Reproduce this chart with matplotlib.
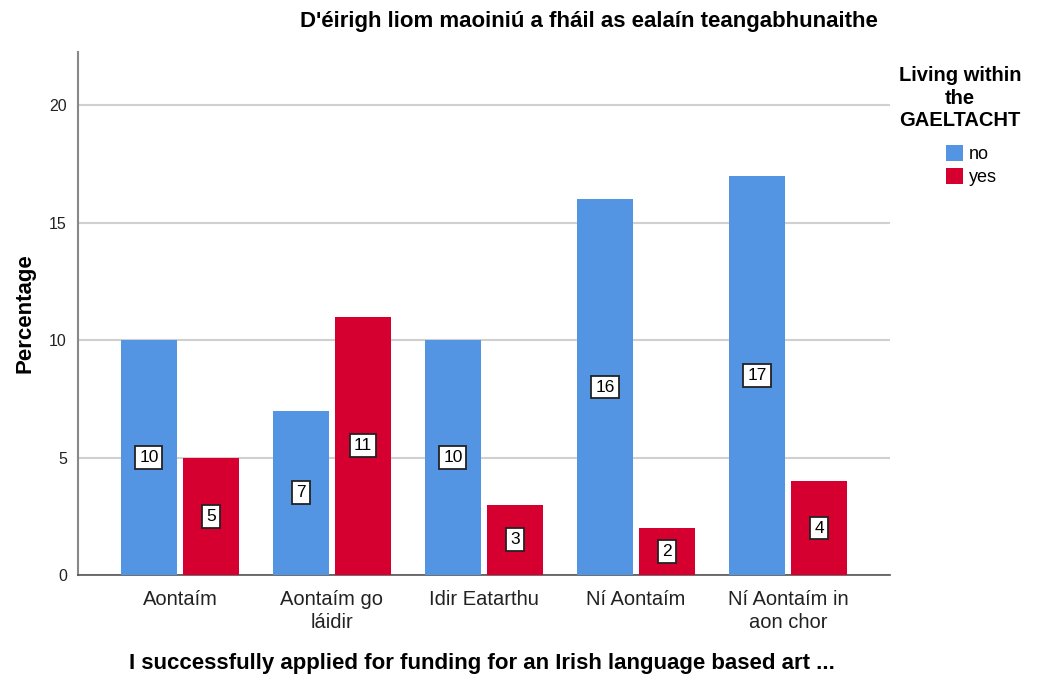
import numpy as np
import matplotlib.pyplot as plt

plt.rcParams['font.family'] = ['Liberation Sans', 'DejaVu Sans']

categories = ['Aontaím', 'Aontaím go\nláidir', 'Idir Eatarthu', 'Ní Aontaím', 'Ní Aontaím in\naon chor']
no_vals = [10, 7, 10, 16, 17]
yes_vals = [5, 11, 3, 2, 4]
series_names = ['no', 'yes']
colors = ['#5394E3', '#D5002F']

fig = plt.figure(figsize=(10.45, 6.77), dpi=100)
ax = fig.add_axes([78 / 1045, 1 - 575 / 677, (890 - 78) / 1045, (575 - 52) / 677])

x = np.arange(len(categories))
w = 0.368
off = 0.204
for vals, name, c, d in zip([no_vals, yes_vals], series_names, colors, [-off, off]):
    bars = ax.bar(x + d, vals, width=w, color=c, label=name, zorder=3)
    for b, v in zip(bars, vals):
        ax.text(b.get_x() + b.get_width() / 2, v / 2, str(v), ha='center', va='center',
                fontsize=12.5, zorder=4,
                bbox=dict(boxstyle='square,pad=0.22', fc='white', ec='#222222', lw=1.3))

ax.set_xlim(-0.671, 4.671)
ax.set_ylim(0, 22.26)
ax.set_yticks([0, 5, 10, 15, 20])
ax.yaxis.grid(True, color='#D0D0D0', lw=1.5, zorder=0)
ax.set_axisbelow(True)
ax.tick_params(axis='y', length=0, labelsize=11.5, colors='#222222', pad=8)
ax.tick_params(axis='x', length=0, labelsize=14.5, colors='#222222', pad=11)
ax.set_xticks(x)
ax.set_xticklabels(categories, linespacing=1.25)
for s in ['top', 'right']:
    ax.spines[s].set_visible(False)
ax.spines['left'].set_color('#888888')
ax.spines['left'].set_linewidth(1.5)
ax.spines['bottom'].set_color('#555555')
ax.spines['bottom'].set_linewidth(1.2)

ax.set_ylabel('Percentage', fontsize=16, fontweight='bold', labelpad=10)
fig.text(482 / 1045, 1 - 664 / 677, 'I successfully applied for funding for an Irish language based art ...',
         ha='center', va='center', fontsize=16, fontweight='bold')
fig.text(589 / 1045, 1 - 22 / 677, "D'éirigh liom maoiniú a fháil as ealaín teangabhunaithe",
         ha='center', va='center', fontsize=16, fontweight='bold')

leg = fig.legend(loc='upper left', bbox_to_anchor=(937 / 1045, 1 - 136 / 677), frameon=False,
                 fontsize=13, handlelength=0.95, handleheight=1.0, handletextpad=0.3,
                 labelspacing=0.25, borderpad=0)
fig.text(960 / 1045, 1 - 66 / 677, 'Living within\nthe\nGAELTACHT', ha='center', va='top',
         fontsize=14.5, fontweight='bold', linespacing=1.25)

fig.savefig('out.png', dpi=100)
